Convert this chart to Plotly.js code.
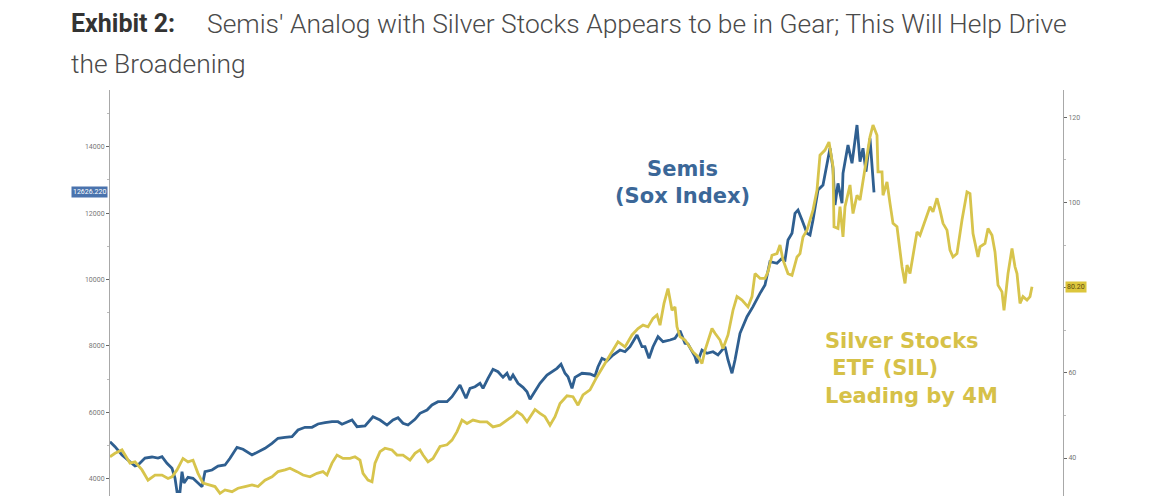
<!DOCTYPE html>
<html>
<head>
<meta charset="utf-8">
<script src="https://cdn.plot.ly/plotly-3.0.1.min.js"></script>
<style>
  html, body { margin: 0; padding: 0; background: #ffffff; }
  #chart { width: 1167px; height: 496px; }
</style>
</head>
<body>
<div id="chart"></div>
<script>
// ---- Data (time in days from start of window) ----
const semisDays = [0,5,12,18,25,28,35,42,48,52,57,62,65,67,70,72,74,78,83,92,95,102,108,115,120,127,133,142,148,155,162,168,175,182,188,195,202,208,215,222,228,232,242,247,255,263,270,277,283,288,293,298,305,310,317,322,328,337,342,347,350,353,356,360,365,370,373,378,383,388,393,397,400,403,408,413,417,420,425,430,437,442,447,451,455,458,462,465,472,480,485,488,492,497,503,510,515,520,527,532,535,539,543,548,553,560,565,570,575,578,582,585,587,592,597,603,608,615,618,622,625,630,637,643,650,655,660,667,672,675,678,682,685,688,692,697,700,703,708,713,720,723,725,728,732,733,738,742,747,750,753,756,760,764];
const semisValues = [5110,4964,4714,4563,4383,4413,4623,4654,4623,4663,4464,4313,4021,3608,3608,4211,3870,4042,4012,3759,4211,4262,4383,4413,4614,4946,4886,4714,4813,4916,5066,5217,5247,5265,5467,5548,5548,5648,5687,5717,5717,5639,5768,5566,5587,5867,5768,5617,5768,5837,5669,5617,5789,5970,6069,6220,6319,6319,6470,6672,6822,6620,6422,6723,6771,6873,6723,7024,7295,7223,7054,7175,6973,7123,6873,6753,6620,6392,6620,6873,7123,7223,7325,7446,7175,7072,6723,7054,7175,7154,7093,7373,7626,7554,7726,7876,7825,7976,8328,7976,7976,7626,7976,8277,8126,8178,8229,8458,8078,8057,7825,7675,7476,7876,7777,7825,7726,7976,7575,7175,7575,8379,8879,9181,9584,9834,10536,10488,10638,10587,11190,11391,11994,12093,11792,11391,11340,11792,12696,12846,13952,13349,12244,12897,12295,13199,14051,13500,14653,13548,13952,13247,14253,12626.22];

const silDays = [0,5,12,15,20,25,32,38,45,52,58,62,67,73,78,83,88,93,98,105,110,115,122,128,135,142,148,155,162,168,175,180,187,193,200,207,213,217,222,227,233,240,245,250,253,258,262,265,270,275,282,287,293,300,305,310,313,318,323,330,337,342,347,352,357,363,370,377,383,390,397,403,407,412,417,420,425,430,435,440,445,450,457,463,468,473,480,487,493,500,508,515,522,528,533,538,543,547,550,554,558,562,565,567,570,575,580,583,588,592,595,598,602,605,610,613,618,623,627,632,638,642,645,650,655,658,662,667,670,673,678,682,687,690,693,697,703,707,710,715,719,723,724,728,730,733,735,740,743,747,750,755,760,763,767,768,772,773,777,780,783,787,792,795,797,800,803,807,810,815,820,823,827,830,833,837,840,843,847,852,857,860,863,868,870,875,878,882,885,888,892,894,898,902,905,907,910,913,917,920,922];
const silValues = [40.3,41.1,41.9,40.7,38.8,39.1,37.2,34.8,36.0,36.0,35.2,35.6,37.2,39.9,39.1,39.5,36.4,34.1,33.7,33.3,31.7,32.5,32.1,32.9,33.3,33.7,33.3,34.8,35.6,36.8,37.2,37.6,36.8,36.0,35.6,36.4,36.8,36.0,38.8,40.7,39.9,39.9,40.3,39.5,36.4,34.8,34.4,38.8,41.5,42.3,41.9,40.7,40.7,39.5,41.1,41.9,40.7,39.1,39.9,42.7,43.1,44.2,46.2,48.9,48.1,48.9,48.5,48.5,47.3,47.7,48.9,49.9,50.9,50.1,48.5,49.7,51.4,50.5,49.7,47.7,49.7,52.8,54.6,54.4,52.4,54.8,56.0,59.1,61.4,64.2,67.3,66.1,68.9,70.4,71.2,70.8,72.8,73.6,71.2,76.3,79.8,74.7,75.5,70.8,68.5,67.7,66.1,64.9,63.8,62.2,65.3,67.7,70.4,69.3,67.7,65.7,68.9,74.7,77.9,77.1,75.5,77.9,83.3,82.2,82.2,83.7,87.6,88.0,90.0,86.5,83.3,82.9,87.2,88.0,91.9,93.5,98.2,102.9,111.1,112.3,114.2,108.4,94.3,93.9,99.0,91.9,99.0,104.1,97.4,101.7,100.6,108.0,115.4,118.2,115.8,107.2,107.2,101.7,104.8,99.8,95.1,94.3,84.9,81.0,85.3,83.3,88.0,93.1,92.3,95.5,99.0,97.8,101.0,98.2,95.1,93.5,88.8,87.2,88.0,95.9,102.5,102.1,92.7,87.2,89.6,90.4,93.9,92.3,88.4,80.6,79.0,74.7,83.3,89.2,84.9,83.3,76.3,77.9,77.1,77.9,80.2];

const leftTicks = [4000,6000,8000,10000,12000,14000];
const leftTickText = ["4000","6000","8000","10000","12000","14000"];
const rightTicks = [40,60,80,100,120];
const rightTickText = ["40","60","","100","120"];

const semisLast = "12626.220";
const silLast = "80.20";

const BLUE = "#2f5f90";
const GOLD = "#d7c44c";

const traces = [
  {
    x: silDays, y: silValues, yaxis: "y2", type: "scatter", mode: "lines",
    name: "Silver Stocks ETF (SIL)",
    line: { color: GOLD, width: 2.8, shape: "linear" },
    hoverinfo: "skip"
  },
  {
    x: semisDays, y: semisValues, yaxis: "y", type: "scatter", mode: "lines",
    name: "Semis (Sox Index)",
    line: { color: BLUE, width: 2.8, shape: "linear" },
    hoverinfo: "skip"
  }
];

const axisFont = { family: "Roboto, 'DejaVu Sans', sans-serif", size: 7, color: "#777" };

const layout = {
  width: 1167, height: 496,
  paper_bgcolor: "#ffffff", plot_bgcolor: "#ffffff",
  margin: { l: 110, r: 104, t: 90, b: 0, pad: 0 },
  showlegend: false,
  xaxis: {
    range: [0, 953], showgrid: false, zeroline: false, showticklabels: false,
    ticks: "", showline: false, fixedrange: true
  },
  yaxis: {
    range: [3479, 15708], showgrid: false, zeroline: false,
    tickmode: "array", tickvals: leftTicks, ticktext: leftTickText,
    ticks: "outside", ticklen: 3, tickwidth: 1, tickcolor: "#666",
    minor: { dtick: 1000, ticks: "outside", ticklen: 2, tickcolor: "#bbb", showgrid: false },
    showline: true, linecolor: "#a8a8a8", linewidth: 1,
    tickfont: axisFont
  },
  yaxis2: {
    range: [31.08, 126.41], overlaying: "y", side: "right", showgrid: false, zeroline: false,
    tickmode: "array", tickvals: rightTicks, ticktext: rightTickText,
    ticks: "outside", ticklen: 3, tickwidth: 1, tickcolor: "#666",
    minor: { dtick: 10, ticks: "outside", ticklen: 2, tickcolor: "#bbb", showgrid: false },
    showline: true, linecolor: "#a8a8a8", linewidth: 1,
    tickfont: axisFont
  },
  annotations: [
    {
      xref: "paper", yref: "paper", x: -0.0425, y: 1.163, xanchor: "left", yanchor: "middle",
      text: "<b>Exhibit 2:</b>", showarrow: false,
      font: { family: "Roboto, sans-serif", size: 25, color: "#333333" }
    },
    {
      xref: "paper", yref: "paper", x: 0.1, y: 1.163, xanchor: "left", yanchor: "middle",
      text: "Semis' Analog with Silver Stocks Appears to be in Gear; This Will Help Drive", showarrow: false,
      font: { family: "Roboto, sans-serif", size: 26.4, color: "#4a4a4a", weight: 300 }
    },
    {
      xref: "paper", yref: "paper", x: -0.0425, y: 1.065, xanchor: "left", yanchor: "middle",
      text: "the Broadening", showarrow: false,
      font: { family: "Roboto, sans-serif", size: 26.4, color: "#4a4a4a", weight: 300 }
    },
    {
      xref: "paper", yref: "paper", x: 0.601, y: 0.772, xanchor: "center", yanchor: "middle",
      align: "center", text: "<b>Semis</b><br><b>(Sox Index)</b>", showarrow: false,
      font: { family: "'DejaVu Sans', Verdana, sans-serif", size: 21, color: "#3b6798" }
    },
    {
      xref: "paper", yref: "paper", x: 0.7485, y: 0.315, xanchor: "left", yanchor: "middle",
      align: "left", text: "<b>Silver Stocks</b><br><b> ETF (SIL)</b><br><b>Leading by 4M</b>", showarrow: false,
      font: { family: "'DejaVu Sans', Verdana, sans-serif", size: 21, color: "#d6c148" }
    },
    {
      xref: "paper", yref: "y", x: -0.002, y: semisValues[semisValues.length - 1],
      xanchor: "right", yanchor: "middle", text: semisLast, showarrow: false,
      bgcolor: "#4a73ad", borderpad: 1,
      font: { family: "Roboto, sans-serif", size: 7, color: "#ffffff" }
    },
    {
      xref: "paper", yref: "y2", x: 1.002, y: silValues[silValues.length - 1],
      xanchor: "left", yanchor: "middle", text: silLast, showarrow: false,
      bgcolor: "#dcc63c", borderpad: 1,
      font: { family: "Roboto, sans-serif", size: 7, color: "#5a4a10" }
    }
  ]
};

Plotly.newPlot("chart", traces, layout, { displayModeBar: false, staticPlot: true });
</script>
</body>
</html>
